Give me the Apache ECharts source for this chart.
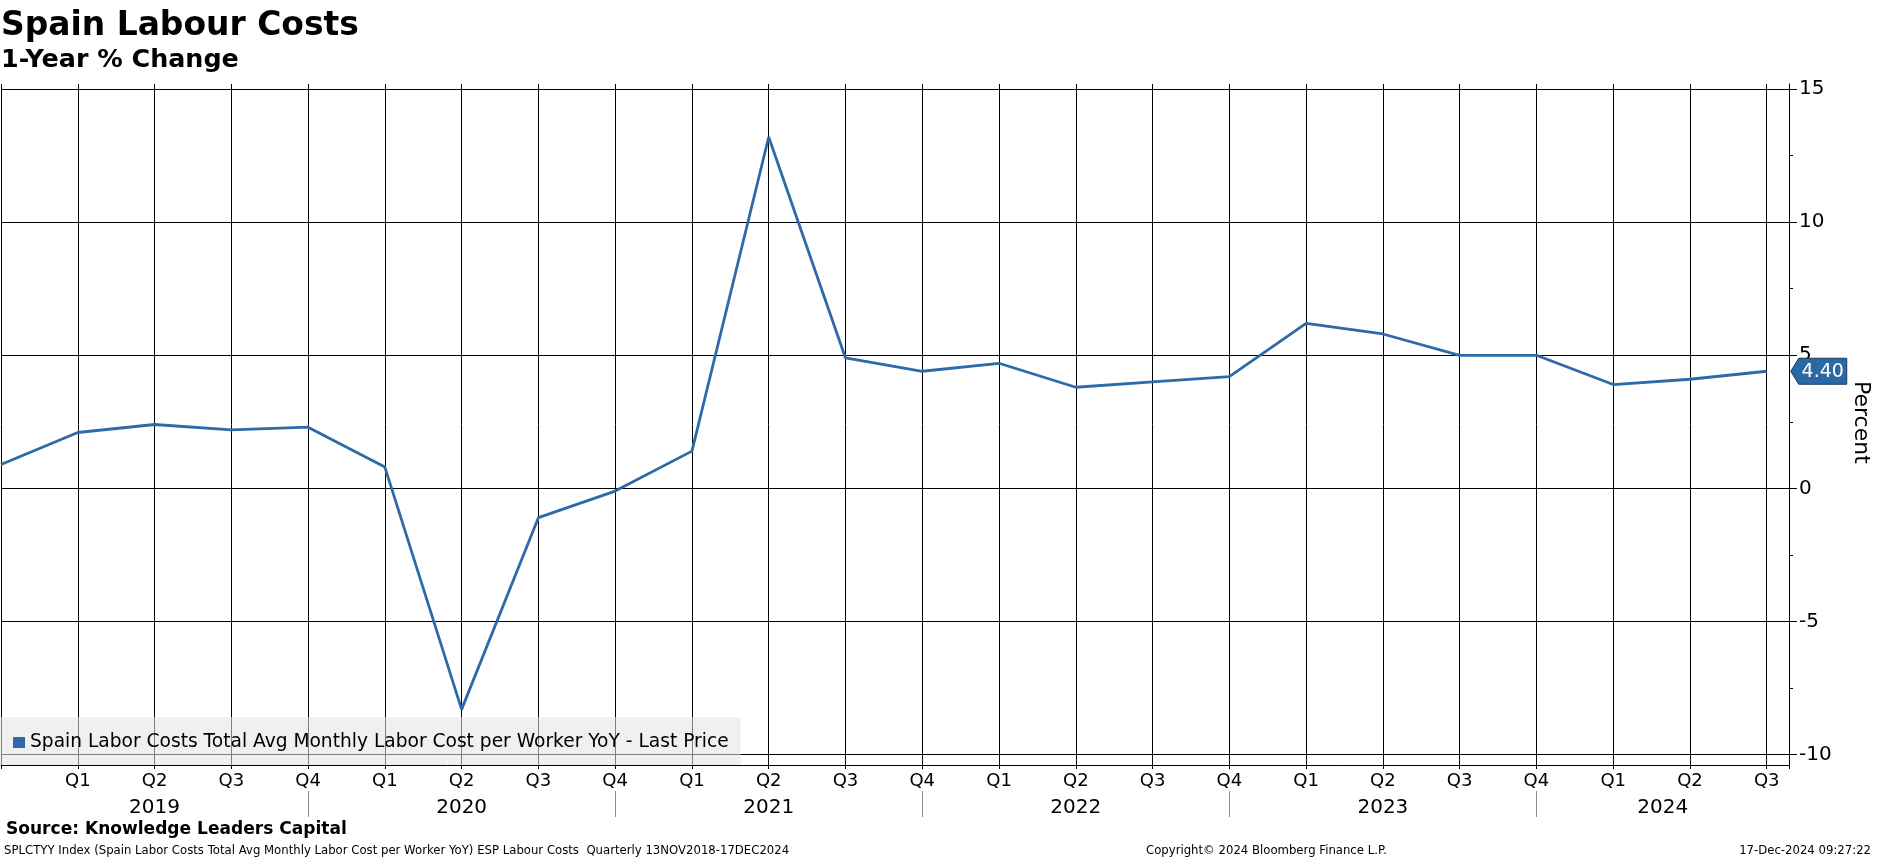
<!DOCTYPE html>
<html><head><meta charset="utf-8">
<script src="https://cdn.jsdelivr.net/npm/echarts@6/dist/echarts.min.js"></script>
<style>html,body{margin:0;padding:0;background:#fff}#c{width:1877px;height:859px}</style>
</head><body><div id="c"></div>
<script>
// ---- data ----
const periods = ['2018 Q4','2019 Q1','2019 Q2','2019 Q3','2019 Q4','2020 Q1','2020 Q2','2020 Q3','2020 Q4',
  '2021 Q1','2021 Q2','2021 Q3','2021 Q4','2022 Q1','2022 Q2','2022 Q3','2022 Q4',
  '2023 Q1','2023 Q2','2023 Q3','2023 Q4','2024 Q1','2024 Q2','2024 Q3'];
const quarterLabels = ['Q4','Q1','Q2','Q3','Q4','Q1','Q2','Q3','Q4','Q1','Q2','Q3','Q4',
  'Q1','Q2','Q3','Q4','Q1','Q2','Q3','Q4','Q1','Q2','Q3'];
const yoyValues = [0.9, 2.1, 2.4, 2.2, 2.3, 0.8, -8.3, -1.1, -0.1, 1.4, 13.2, 4.9, 4.4,
  4.7, 3.8, 4.0, 4.2, 6.2, 5.8, 5.0, 5.0, 3.9, 4.1, 4.4];
const yearLabels = ['2019','2020','2021','2022','2023','2024'];
const yTickValues = [-10, -5, 0, 5, 10, 15];
const yMinorTickValues = [-7.5, -2.5, 2.5, 7.5, 12.5];
const seriesName = 'Spain Labor Costs Total Avg Monthly Labor Cost per Worker YoY - Last Price';

// ---- layout helpers ----
const FONT = "'DejaVu Sans', Verdana, sans-serif";
const cv = document.createElement('canvas').getContext('2d');
function fit(text, weight, target) {
  cv.font = weight + ' 100px ' + FONT;
  return 100 * target / cv.measureText(text).width;
}
const xMax = 23.29;
const yMin = -10.39, yMax = 15.19;
const separators = quarterLabels.map((q, i) => (q === 'Q4' && i > 0) ? i : null).filter(v => v !== null);
const bounds = [0].concat(separators, [xMax]);
const yearCenters = yearLabels.map((y, i) => (bounds[i] + bounds[i + 1]) / 2);

const chart = echarts.init(document.getElementById('c'), null, {renderer: 'canvas'});
const lineColor = '#2c6aa8';
const last = yoyValues.length - 1;

const footLine = 'SPLCTYY Index (Spain Labor Costs Total Avg Monthly Labor Cost per Worker YoY) ESP Labour Costs  Quarterly 13NOV2018-17DEC2024';
const footSize = fit(footLine, 'normal', 786);
const texts = [
  {t: 'Spain Labour Costs', w: 'bold', s: fit('Spain Labour Costs', 'bold', 358), x: 1, y: 26, a: 'left'},
  {t: '1-Year % Change', w: 'bold', s: fit('1-Year % Change', 'bold', 238), x: 1, y: 60, a: 'left'},
  {t: 'Source: Knowledge Leaders Capital', w: 'bold', s: fit('Source: Knowledge Leaders Capital', 'bold', 341), x: 6, y: 830, a: 'left'},
  {t: footLine, w: 'normal', s: footSize, x: 4, y: 851, a: 'left'},
  {t: 'Copyright\u00a9 2024 Bloomberg Finance L.P.', w: 'normal', s: footSize, x: 1146, y: 851, a: 'left'},
  {t: '17-Dec-2024 09:27:22', w: 'normal', s: footSize, x: 1871, y: 851, a: 'right'}
];
const graphics = texts.map((o, i) => ({
  type: 'text', id: 'txt' + i, x: o.x, y: o.y, z: 10,
  style: {text: o.t, fontFamily: FONT, fontWeight: o.w, fontSize: o.s,
    fill: '#000', align: o.a, verticalAlign: 'middle'}
}));
// axis title, rotated to read top-to-bottom, starting just below the value tag
graphics.push({
  type: 'text', id: 'yName', x: 1861, y: 381, rotation: -Math.PI / 2, z: 10,
  style: {text: 'Percent', fontFamily: FONT, fontSize: 22, fill: '#000', align: 'left', verticalAlign: 'middle'}
});

const option = {
  animation: false,
  backgroundColor: '#fff',
  graphic: graphics,
  legend: {
    show: true, left: 0, top: 717,
    padding: [16, 12, 13, 13],
    backgroundColor: 'rgba(228,228,228,0.56)',
    icon: 'rect', itemWidth: 12, itemHeight: 11, itemGap: 5,
    textStyle: {fontFamily: FONT, fontSize: fit(seriesName, 'normal', 699), color: '#000'},
    data: [seriesName]
  },
  grid: {left: 1, right: 88, top: 84, bottom: 94, containLabel: false, outerBoundsMode: 'none'},
  xAxis: [{
    type: 'value', min: 0, max: xMax, interval: 1, position: 'bottom',
    axisLine: {show: true, onZero: false, lineStyle: {color: '#000', width: 1}},
    axisTick: {show: true, length: 4, lineStyle: {color: '#000'}},
    axisLabel: {show: true, margin: 7, fontFamily: FONT, fontSize: 18, color: '#000',
      showMinLabel: true, showMaxLabel: true, hideOverlap: false,
      formatter: v => (Number.isInteger(v) && v >= 1 && v < quarterLabels.length) ? quarterLabels[v] : ''},
    splitLine: {show: true, lineStyle: {color: '#000', width: 1}}
  }, {
    type: 'value', min: 0, max: xMax, position: 'bottom', offset: 26,
    axisLine: {show: false, onZero: false},
    axisTick: {show: false},
    axisLabel: {show: true, customValues: yearCenters, margin: 7, fontFamily: FONT, fontSize: 20, color: '#000',
      formatter: v => { const i = yearCenters.findIndex(c => Math.abs(c - v) < 1e-6); return i >= 0 ? yearLabels[i] : ''; }},
    splitLine: {show: false}
  }],
  yAxis: [{
    type: 'value', position: 'right', min: yMin, max: yMax,
    axisLine: {show: true, onZero: false, lineStyle: {color: '#000', width: 1}},
    axisTick: {show: true, customValues: yTickValues, length: 8, lineStyle: {color: '#000'}},
    axisLabel: {show: true, customValues: yTickValues, margin: 10, fontFamily: FONT, fontSize: 20, color: '#000'},
    splitLine: {show: true, lineStyle: {color: '#000', width: 1}}
  }, {
    type: 'value', position: 'right', min: yMin, max: yMax,
    axisLine: {show: false, onZero: false},
    axisTick: {show: true, customValues: yMinorTickValues, length: 4, lineStyle: {color: '#000'}},
    axisLabel: {show: false},
    splitLine: {show: false}
  }],
  series: [{
    name: seriesName, type: 'line', xAxisIndex: 0, yAxisIndex: 0,
    data: yoyValues.map((v, i) => [i, v]),
    symbol: 'none', showSymbol: false,
    lineStyle: {color: lineColor, width: 2.8},
    itemStyle: {color: lineColor},
    z: 5
  }, {
    // year separators below the quarter labels
    type: 'custom', xAxisIndex: 0, yAxisIndex: 0, silent: true, clip: false,
    data: separators.map(s => [s, yMin]),
    renderItem: (params, api) => {
      const p = api.coord([api.value(0), api.value(1)]);
      const x = Math.round(p[0]) + 0.5;
      return {type: 'line', shape: {x1: x, y1: p[1] + 26, x2: x, y2: p[1] + 52},
        style: {stroke: '#8c8c8c', lineWidth: 1}};
    }
  }]
};
chart.setOption(option);

// last-value tag at the right axis
const pt = chart.convertToPixel({xAxisIndex: 0, yAxisIndex: 0}, [last, yoyValues[last]]);
const x0 = pt[0] + 24, py = pt[1];
chart.setOption({
  graphic: [{
    type: 'polygon', id: 'tagBox', z: 20,
    shape: {points: [[x0, py], [x0 + 8, py - 13], [x0 + 56, py - 13], [x0 + 56, py + 13], [x0 + 8, py + 13]]},
    style: {fill: '#2a69a6', stroke: '#1b3b60', lineWidth: 1}
  }, {
    type: 'text', id: 'tagText', z: 21, x: x0 + 32, y: py + 1,
    style: {text: yoyValues[last].toFixed(2), fontFamily: FONT, fontSize: 19, fill: '#fff', align: 'center', verticalAlign: 'middle'}
  }]
});
</script>
</body></html>
